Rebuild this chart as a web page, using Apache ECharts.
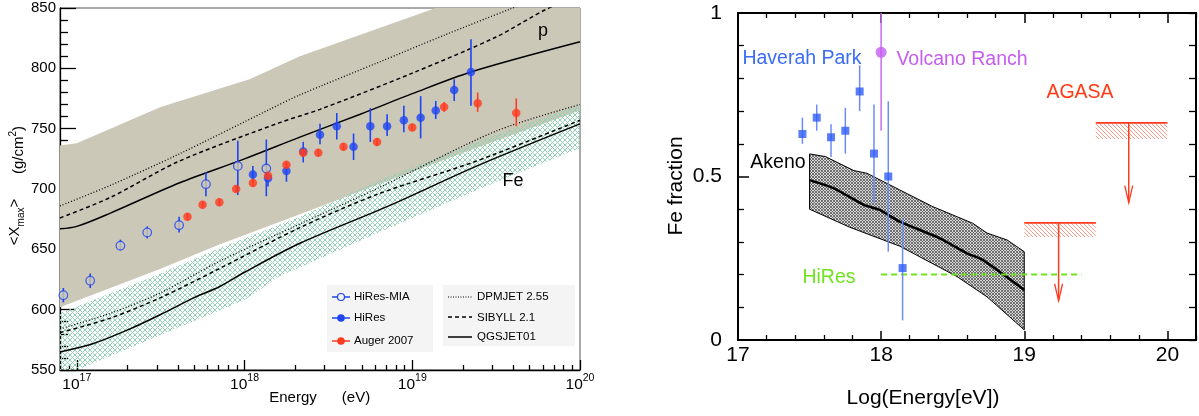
<!DOCTYPE html>
<html>
<head>
<meta charset="utf-8">
<script src="https://cdn.jsdelivr.net/npm/echarts@6/dist/echarts.min.js"></script>
<style>
html,body{margin:0;padding:0;background:#fff}
#c{width:1199px;height:416px}
</style>
</head>
<body>
<div id="c"></div>
<script>
// ---------- Left panel: <Xmax> vs energy (x in log10(E/eV)) ----------
// proton band (tan)
const pUpperX = [16.9, 17.0, 17.5, 18.03, 18.33, 19.14, 20.0];
const pUpperY = [736, 738, 768, 791, 810, 850, 893];
const pLowerX = [16.9, 17.5, 17.85, 18.33, 18.8, 19.4, 20.0];
const pLowerY = [602, 634, 654, 679, 704, 735, 765];
// iron band (green cross-hatch)
const feUpperX = [16.9, 17.5, 17.85, 18.33, 18.8, 19.4, 20.0];
const feUpperY = [597, 630, 651, 677, 707, 740, 770];
const feLowerX = [16.9, 17.0, 17.5, 18.0, 18.2, 18.8, 19.4, 20.0];
const feLowerY = [544, 550, 579, 608, 627, 664, 700, 734];

// model curves, proton
const qgsPX = [16.9, 17.0, 17.2, 17.61, 18.0, 18.33, 18.69, 19.0, 19.35, 20.0];
const qgsPY = [667, 669, 680, 705, 725, 743, 762, 779, 797, 822];
const sibPX = [16.9, 17.2, 17.61, 18.21, 18.45, 19.0, 19.5, 19.8, 20.0];
const sibPY = [676, 693, 723, 755, 766, 796, 826, 849, 860];
const dpmPX = [16.9, 17.2, 17.61, 18.15, 18.33, 18.8, 19.2, 19.58, 20.0];
const dpmPY = [686, 703, 729, 766, 778, 805, 828, 849, 872];
// model curves, iron
const qgsFeX = [16.9, 17.1, 17.3, 17.5, 17.7, 17.85, 18.0, 18.33, 18.86, 19.4, 20.0];
const qgsFeY = [565, 572, 583, 596, 610, 619, 631, 655, 686, 720, 754];
const sibFeX = [16.9, 17.2, 17.5, 17.85, 18.33, 18.8, 19.38, 20.0];
const sibFeY = [581, 593, 610, 634, 668, 696, 723, 757];
const dpmFeX = [16.9, 17.2, 17.5, 17.85, 18.33, 18.8, 19.5, 20.0];
const dpmFeY = [584, 597, 614, 640, 671, 701, 748, 770];

// measurements
const miaX  = [16.92, 17.08, 17.26, 17.42, 17.61, 17.77, 17.96, 18.13];
const miaY  = [612, 624, 653, 664, 670, 704, 719, 717];
const miaLo = [606, 618, 649, 659, 664, 694, 695, 694];
const miaHi = [618, 630, 658, 669, 677, 714, 740, 741];

const hiresX  = [18.05, 18.14, 18.25, 18.35, 18.45, 18.55, 18.65, 18.75, 18.85, 18.95, 19.05, 19.14, 19.25, 19.35];
const hiresY  = [712, 709, 715, 731, 745, 752, 735, 752, 752, 757, 759, 765, 782, 797];
const hiresLo = [707, 702, 706, 722, 737, 741, 724, 739, 744, 747, 742, 758, 773, 769];
const hiresHi = [719, 716, 722, 739, 754, 763, 746, 767, 762, 769, 777, 773, 791, 824];

const augerX  = [17.66, 17.75, 17.85, 17.95, 18.05, 18.14, 18.25, 18.35, 18.44, 18.59, 18.79, 19.0, 19.19, 19.39, 19.62];
const augerY  = [677, 687, 689, 700, 705, 711, 720, 730, 730, 735, 739, 751, 768, 771, 763];
const augerLo = [674, 684, 686, 697, 702, 708, 717, 727, 727, 732, 736, 748, 764, 764, 752];
const augerHi = [680, 690, 692, 703, 708, 714, 723, 733, 733, 738, 742, 754, 772, 780, 775];

const leftMajorTicks = [17, 18, 19, 20];
const leftYTicks = [550, 600, 650, 700, 750, 800, 850];

// ---------- Right panel: Fe fraction vs Log(Energy[eV]) ----------
const hpX  = [17.45, 17.55, 17.65, 17.75, 17.85, 17.95, 18.05, 18.15];
const hpY  = [0.63, 0.68, 0.62, 0.64, 0.76, 0.57, 0.50, 0.22];
const hpLo = [0.60, 0.64, 0.56, 0.57, 0.70, 0.42, 0.27, 0.06];
const hpHi = [0.68, 0.72, 0.66, 0.71, 0.84, 0.72, 0.73, 0.37];

const vrX  = [18.0];
const vrY  = [0.88];
const vrLo = [0.64];
const vrHi = [1.0];

const akTopX = [17.5, 17.61, 17.81, 17.9, 18.13, 18.36, 18.64, 18.74, 18.88, 19.0];
const akTopY = [0.569, 0.561, 0.518, 0.510, 0.459, 0.408, 0.357, 0.327, 0.306, 0.270];
const akBotX = [17.5, 17.78, 18.13, 18.53, 18.74, 19.0];
const akBotY = [0.400, 0.345, 0.287, 0.194, 0.132, 0.031];
const akMidX = [17.5, 17.67, 17.88, 17.99, 18.13, 18.41, 18.6, 18.71, 19.0];
const akMidY = [0.489, 0.464, 0.413, 0.398, 0.362, 0.311, 0.265, 0.245, 0.153];

const hiresFeX = [18.0, 19.4];
const hiresFeY = [0.20, 0.20];

// AGASA upper limits: x-range, limit, hatch depth, arrow position and arrow tip
const agX0     = [19.0, 19.5];
const agX1     = [19.5, 20.0];
const agTop    = [0.358, 0.664];
const agHatch  = [0.315, 0.615];
const agArrowX = [19.24, 19.73];
const agArrowY = [0.12, 0.42];

const rightXTicks = [17, 18, 19, 20];
const rightXMinor = [17.2, 17.4, 17.6, 17.8, 18.2, 18.4, 18.6, 18.8, 19.2, 19.4, 19.6, 19.8, 20.2];

// ---------- helpers ----------
const FONT = '"Liberation Sans", Arial, Helvetica, sans-serif';
const BLUE = '#1f45f2';
const RED = '#ff3b1f';
const TAN = '#ccc8b8';

function patternCanvas(size, bg, color, width, dirs) {
  const c = document.createElement('canvas');
  c.width = size; c.height = size;
  const g = c.getContext('2d');
  if (bg) { g.fillStyle = bg; g.fillRect(0, 0, size, size); }
  g.strokeStyle = color; g.lineWidth = width;
  g.beginPath();
  if (dirs.indexOf('\\') >= 0) { g.moveTo(-1, -1); g.lineTo(size + 1, size + 1); }
  if (dirs.indexOf('/') >= 0) { g.moveTo(-1, size + 1); g.lineTo(size + 1, -1); }
  g.stroke();
  return { image: c, repeat: 'repeat' };
}
const feHatch = patternCanvas(5, null, '#92d0b4', 1, '\\/');
const akHatch = patternCanvas(3, '#d8d8d8', '#555555', 0.8, '\\/');
const agHatchFill = patternCanvas(4, null, '#ff8f7c', 0.9, '\\');

function zip(xs, ys) { return xs.map((x, i) => [x, ys[i]]); }

function band(ux, uy, lx, ly, style, xi, yi, z) {
  return {
    type: 'custom', xAxisIndex: xi, yAxisIndex: yi, z: z, clip: true, silent: true,
    data: [[ux[0], uy[0]]],
    renderItem: function (p, api) {
      const pts = ux.map((x, i) => api.coord([x, uy[i]]));
      for (let i = lx.length - 1; i >= 0; i--) pts.push(api.coord([lx[i], ly[i]]));
      return { type: 'polygon', shape: { points: pts }, style: style };
    }
  };
}

function curve(xs, ys, dash, width, xi, yi, z, smooth) {
  return {
    type: 'line', xAxisIndex: xi, yAxisIndex: yi, z: z, silent: true,
    data: zip(xs, ys), symbol: 'none', smooth: smooth, clip: true,
    lineStyle: { color: '#000', width: width, type: dash }
  };
}

function errorBars(xs, lo, hi, color, width, xi, yi, z) {
  return {
    type: 'custom', xAxisIndex: xi, yAxisIndex: yi, z: z, clip: true, silent: true,
    data: xs.map((x, i) => [x, lo[i], hi[i]]),
    encode: { x: 0, y: [1, 2] },
    renderItem: function (p, api) {
      const a = api.coord([api.value(0), api.value(1)]);
      const b = api.coord([api.value(0), api.value(2)]);
      return { type: 'line', shape: { x1: a[0], y1: a[1], x2: b[0], y2: b[1] },
               style: { stroke: color, lineWidth: width } };
    }
  };
}

function points(xs, ys, symbol, size, itemStyle, xi, yi, z) {
  return {
    type: 'scatter', xAxisIndex: xi, yAxisIndex: yi, z: z, silent: true,
    data: zip(xs, ys), symbol: symbol, symbolSize: size, itemStyle: itemStyle
  };
}

// minor ticks of the logarithmic energy axis
const leftMinorTicks = [];
for (let n = 16; n <= 19; n++) {
  for (let k = 2; k <= 9; k++) {
    const v = n + Math.log10(k);
    if (v >= 16.9 && v <= 20) leftMinorTicks.push(v);
  }
}

const blackLine = { show: true, lineStyle: { color: '#000', width: 1.3 } };
const thickLine = { show: true, lineStyle: { color: '#000', width: 2 } };
const tickStyle = { color: '#000', width: 1.3 };

const option = {
  animation: false,
  textStyle: { fontFamily: FONT },
  grid: [
    { left: 60, top: 8, width: 520, height: 362, show: true, borderColor: '#555', borderWidth: 1, backgroundColor: 'transparent', outerBoundsMode: 'none' },
    { left: 738, top: 13, width: 458, height: 327, show: false, outerBoundsMode: 'none' }
  ],
  xAxis: [
    { // 0: left, energy, major
      gridIndex: 0, type: 'value', min: 16.9, max: 20, position: 'bottom',
      axisLine: blackLine, splitLine: { show: false },
      axisTick: { show: true, inside: true, length: 10, lineStyle: tickStyle, customValues: leftMajorTicks },
      axisLabel: {
        customValues: leftMajorTicks, margin: 3,
        formatter: v => '{b|10}{s|' + Math.round(v) + '}',
        rich: {
          b: { fontSize: 15.5, color: '#000', fontFamily: FONT, verticalAlign: 'bottom' },
          s: { fontSize: 10.5, color: '#000', fontFamily: FONT, verticalAlign: 'bottom', padding: [0, 0, 9, 0] }
        }
      }
    },
    { // 1: left, energy, minor ticks
      gridIndex: 0, type: 'value', min: 16.9, max: 20, position: 'bottom',
      axisLine: { show: false }, splitLine: { show: false }, axisLabel: { show: false },
      axisTick: { show: true, inside: true, length: 5, lineStyle: tickStyle, customValues: leftMinorTicks }
    },
    { // 2: right, bottom major
      gridIndex: 1, type: 'value', min: 17, max: 20.2, position: 'bottom',
      axisLine: thickLine, splitLine: { show: false },
      axisTick: { show: true, inside: true, length: 9, lineStyle: { color: '#000', width: 1.5 }, customValues: rightXTicks },
      axisLabel: { customValues: rightXTicks, fontSize: 21, color: '#000', margin: 5, fontFamily: FONT }
    },
    { // 3: right, bottom minor
      gridIndex: 1, type: 'value', min: 17, max: 20.2, position: 'bottom',
      axisLine: { show: false }, splitLine: { show: false }, axisLabel: { show: false },
      axisTick: { show: true, inside: true, length: 5, lineStyle: { color: '#000', width: 1.3 }, customValues: rightXMinor }
    },
    { // 4: right, top major
      gridIndex: 1, type: 'value', min: 17, max: 20.2, position: 'top',
      axisLine: thickLine, splitLine: { show: false }, axisLabel: { show: false },
      axisTick: { show: true, inside: true, length: 10, lineStyle: { color: '#000', width: 1.5 }, customValues: rightXTicks }
    },
    { // 5: right, top minor
      gridIndex: 1, type: 'value', min: 17, max: 20.2, position: 'top',
      axisLine: { show: false }, splitLine: { show: false }, axisLabel: { show: false },
      axisTick: { show: true, inside: true, length: 5, lineStyle: { color: '#000', width: 1.3 }, customValues: rightXMinor }
    }
  ],
  yAxis: [
    { // 0: left, Xmax
      gridIndex: 0, type: 'value', min: 550, max: 850, interval: 50, position: 'left',
      axisLine: blackLine, splitLine: { show: false },
      axisTick: { show: true, inside: true, length: 16, lineStyle: tickStyle },
      minorTick: { show: true, splitNumber: 5, length: 8, lineStyle: tickStyle },
      axisLabel: { fontSize: 15, color: '#000', margin: 4, fontFamily: FONT, customValues: leftYTicks }
    },
    { // 1: right, Fe fraction (left side)
      gridIndex: 1, type: 'value', min: 0, max: 1, interval: 0.5, position: 'left',
      axisLine: thickLine, splitLine: { show: false },
      axisTick: { show: true, inside: true, length: 11, lineStyle: { color: '#000', width: 1.5 } },
      minorTick: { show: true, splitNumber: 5, length: 6, lineStyle: { color: '#000', width: 1.3 } },
      axisLabel: { fontSize: 21, color: '#000', margin: 16, fontFamily: FONT }
    },
    { // 2: right, Fe fraction (right side, ticks only)
      gridIndex: 1, type: 'value', min: 0, max: 1, interval: 0.5, position: 'right',
      axisLine: thickLine, splitLine: { show: false }, axisLabel: { show: false },
      axisTick: { show: true, inside: true, length: 7, lineStyle: { color: '#000', width: 1.3 } },
      minorTick: { show: true, splitNumber: 5, length: 7, lineStyle: { color: '#000', width: 1.3 } }
    }
  ],
  series: [
    // left panel
    band(pUpperX, pUpperY, pLowerX, pLowerY, { fill: TAN }, 0, 0, 1),
    band(feUpperX, feUpperY, feLowerX, feLowerY, { fill: feHatch }, 0, 0, 2),
    curve(dpmPX, dpmPY, [1, 2], 1.3, 0, 0, 3, 0.3),
    curve(sibPX, sibPY, [4, 3], 1.5, 0, 0, 3, 0.3),
    curve(qgsPX, qgsPY, 'solid', 1.5, 0, 0, 3, 0.3),
    curve(dpmFeX, dpmFeY, [1, 2], 1.3, 0, 0, 3, 0.3),
    curve(sibFeX, sibFeY, [4, 3], 1.5, 0, 0, 3, 0.3),
    curve(qgsFeX, qgsFeY, 'solid', 1.5, 0, 0, 3, 0.3),
    errorBars(miaX, miaLo, miaHi, BLUE, 1.6, 0, 0, 4),
    points(miaX, miaY, 'circle', 8.5, { color: TAN, borderColor: BLUE, borderWidth: 1.3 }, 0, 0, 5),
    errorBars(hiresX, hiresLo, hiresHi, BLUE, 1.6, 0, 0, 4),
    points(hiresX, hiresY, 'circle', 8.5, { color: BLUE }, 0, 0, 6),
    errorBars(augerX, augerLo, augerHi, RED, 1.6, 0, 0, 7),
    points(augerX, augerY, 'circle', 8.5, { color: RED }, 0, 0, 8),

    // right panel
    band(akTopX, akTopY, akBotX, akBotY, { fill: akHatch, stroke: '#000', lineWidth: 1 }, 2, 1, 1),
    curve(akMidX, akMidY, 'solid', 2.5, 2, 1, 3, 0.2),
    {
      type: 'line', xAxisIndex: 2, yAxisIndex: 1, z: 3, silent: true,
      data: zip(hiresFeX, hiresFeY), symbol: 'none',
      lineStyle: { color: '#6fe31f', width: 2, type: [6, 4] }
    },
    errorBars(hpX, hpLo, hpHi, '#6b8cf6', 1.5, 2, 1, 4),
    points(hpX, hpY, 'rect', 8, { color: '#2f5cf6' }, 2, 1, 5),
    errorBars(vrX, vrLo, vrHi, '#c86cf0', 1.5, 2, 1, 4),
    points(vrX, vrY, 'circle', 11, { color: '#c65cf0' }, 2, 1, 5),
    {
      type: 'custom', xAxisIndex: 2, yAxisIndex: 1, z: 4, silent: true, clip: false,
      data: agX0.map((x, i) => [x, agX1[i], agTop[i], agHatch[i], agArrowX[i], agArrowY[i]]),
      encode: { x: [0, 1, 4], y: [2, 3, 5] },
      renderItem: function (p, api) {
        const tl = api.coord([api.value(0), api.value(2)]);
        const br = api.coord([api.value(1), api.value(3)]);
        const a0 = api.coord([api.value(4), api.value(2)]);
        const a1 = api.coord([api.value(4), api.value(5)]);
        return {
          type: 'group',
          children: [
            { type: 'rect', shape: { x: tl[0], y: tl[1], width: br[0] - tl[0], height: br[1] - tl[1] },
              style: { fill: agHatchFill } },
            { type: 'line', shape: { x1: tl[0], y1: tl[1], x2: br[0], y2: tl[1] },
              style: { stroke: RED, lineWidth: 1.8 } },
            { type: 'line', shape: { x1: a0[0], y1: a0[1], x2: a1[0], y2: a1[1] },
              style: { stroke: RED, lineWidth: 1.5 } },
            { type: 'polyline', shape: { points: [[a1[0] - 4, a1[1] - 17], [a1[0], a1[1]], [a1[0] + 4, a1[1] - 17]] },
              style: { stroke: RED, lineWidth: 1.3, fill: 'none' } }
          ]
        };
      }
    }
  ],
  graphic: [
    // left panel legend
    { type: 'rect', z: 50, shape: { x: 327, y: 285, width: 106, height: 67 }, style: { fill: '#f4f4f4' } },
    { type: 'rect', z: 50, shape: { x: 443, y: 285, width: 132, height: 61 }, style: { fill: '#f4f4f4' } },
    { type: 'line', z: 51, shape: { x1: 332, y1: 297, x2: 350, y2: 297 }, style: { stroke: BLUE, lineWidth: 1.5 } },
    { type: 'circle', z: 52, shape: { cx: 341, cy: 297, r: 3.5 }, style: { fill: '#f4f4f4', stroke: BLUE, lineWidth: 1.2 } },
    { type: 'line', z: 51, shape: { x1: 332, y1: 318, x2: 350, y2: 318 }, style: { stroke: BLUE, lineWidth: 1.5 } },
    { type: 'circle', z: 52, shape: { cx: 341, cy: 318, r: 3.8 }, style: { fill: BLUE } },
    { type: 'line', z: 51, shape: { x1: 332, y1: 341, x2: 350, y2: 341 }, style: { stroke: RED, lineWidth: 1.5 } },
    { type: 'circle', z: 52, shape: { cx: 341, cy: 341, r: 3.8 }, style: { fill: RED } },
    { type: 'text', z: 52, x: 354, y: 297, style: { text: 'HiRes-MIA', fontSize: 11.5, fontFamily: FONT, fill: '#000', verticalAlign: 'middle' } },
    { type: 'text', z: 52, x: 354, y: 318, style: { text: 'HiRes', fontSize: 11.5, fontFamily: FONT, fill: '#000', verticalAlign: 'middle' } },
    { type: 'text', z: 52, x: 354, y: 341, style: { text: 'Auger 2007', fontSize: 11.5, fontFamily: FONT, fill: '#000', verticalAlign: 'middle' } },
    { type: 'line', z: 51, shape: { x1: 448, y1: 297, x2: 472, y2: 297 }, style: { stroke: '#000', lineWidth: 1.2, lineDash: [1, 1.5] } },
    { type: 'line', z: 51, shape: { x1: 448, y1: 317, x2: 472, y2: 317 }, style: { stroke: '#000', lineWidth: 1.5, lineDash: [4, 3] } },
    { type: 'line', z: 51, shape: { x1: 448, y1: 337, x2: 472, y2: 337 }, style: { stroke: '#000', lineWidth: 1.5 } },
    { type: 'text', z: 52, x: 477, y: 297, style: { text: 'DPMJET 2.55', fontSize: 11.5, fontFamily: FONT, fill: '#000', verticalAlign: 'middle' } },
    { type: 'text', z: 52, x: 477, y: 318, style: { text: 'SIBYLL 2.1', fontSize: 11.5, fontFamily: FONT, fill: '#000', verticalAlign: 'middle' } },
    { type: 'text', z: 52, x: 477, y: 337, style: { text: 'QGSJET01', fontSize: 11.5, fontFamily: FONT, fill: '#000', verticalAlign: 'middle' } },
    // left panel labels
    { type: 'text', z: 52, x: 543, y: 31, style: { text: 'p', fontSize: 18, fontFamily: FONT, fill: '#000', align: 'center', verticalAlign: 'middle' } },
    { type: 'text', z: 52, x: 513, y: 181, style: { text: 'Fe', fontSize: 18, fontFamily: FONT, fill: '#000', align: 'center', verticalAlign: 'middle' } },
    { type: 'text', z: 52, x: 293, y: 398, style: { text: 'Energy', fontSize: 15, fontFamily: FONT, fill: '#000', align: 'center', verticalAlign: 'middle' } },
    { type: 'text', z: 52, x: 356, y: 398, style: { text: '(eV)', fontSize: 15, fontFamily: FONT, fill: '#000', align: 'center', verticalAlign: 'middle' } },
    { type: 'text', z: 52, x: 17, y: 222, rotation: Math.PI / 2,
      style: { text: '{a|<X}{b|max}{a|>}', align: 'center', verticalAlign: 'middle', fill: '#000',
        rich: { a: { fontSize: 15, fontFamily: FONT, fill: '#000', verticalAlign: 'bottom', padding: [0, 0, 4, 0] },
                b: { fontSize: 10, fontFamily: FONT, fill: '#000', verticalAlign: 'bottom' } } } },
    { type: 'text', z: 52, x: 17, y: 150, rotation: Math.PI / 2,
      style: { text: '{a|(g/cm}{c|2}{a|)}', align: 'center', verticalAlign: 'middle', fill: '#000',
        rich: { a: { fontSize: 15, fontFamily: FONT, fill: '#000', verticalAlign: 'bottom' },
                c: { fontSize: 10, fontFamily: FONT, fill: '#000', verticalAlign: 'bottom', padding: [0, 0, 8, 0] } } } },
    // right panel labels
    { type: 'text', z: 52, x: 676, y: 186, rotation: Math.PI / 2,
      style: { text: 'Fe fraction', fontSize: 21, fontFamily: FONT, fill: '#000', align: 'center', verticalAlign: 'middle' } },
    { type: 'text', z: 52, x: 923, y: 398, style: { text: 'Log(Energy[eV])', fontSize: 21, fontFamily: FONT, fill: '#000', align: 'center', verticalAlign: 'middle' } },
    { type: 'text', z: 52, x: 802, y: 59, style: { text: 'Haverah Park', fontSize: 19.5, fontFamily: FONT, fill: '#3b6cf5', align: 'center', verticalAlign: 'middle' } },
    { type: 'text', z: 52, x: 962, y: 60, style: { text: 'Volcano Ranch', fontSize: 19.5, fontFamily: FONT, fill: '#c65cf0', align: 'center', verticalAlign: 'middle' } },
    { type: 'text', z: 52, x: 1080, y: 93, style: { text: 'AGASA', fontSize: 19.5, fontFamily: FONT, fill: '#ff3a14', align: 'center', verticalAlign: 'middle' } },
    { type: 'text', z: 52, x: 778, y: 163, style: { text: 'Akeno', fontSize: 19.5, fontFamily: FONT, fill: '#000', align: 'center', verticalAlign: 'middle' } },
    { type: 'text', z: 52, x: 829, y: 278, style: { text: 'HiRes', fontSize: 19.5, fontFamily: FONT, fill: '#6fe31f', align: 'center', verticalAlign: 'middle' } }
  ]
};

const chart = echarts.init(document.getElementById('c'), null, { renderer: 'canvas' });
chart.setOption(option);
</script>
</body>
</html>
